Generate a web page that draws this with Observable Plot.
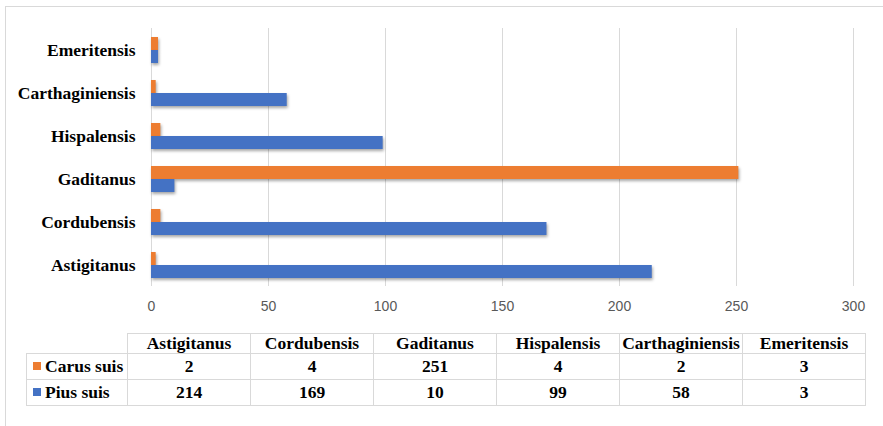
<!DOCTYPE html>
<html>
<head>
<meta charset="utf-8">
<script src="https://cdn.jsdelivr.net/npm/d3@7"></script>
<script src="https://cdn.jsdelivr.net/npm/@observablehq/plot@0.6"></script>
<style>
  html, body { margin: 0; padding: 0; background: #fff; }
  #wrap { position: relative; width: 883px; height: 426px; overflow: hidden; background: #fff; }
  #frame { position: absolute; left: 5px; top: 6px; width: 900px; height: 440px; border: 1px solid #d9d9d9; box-sizing: border-box; }
  #chart { position: absolute; left: 0; top: 0; }
  #chart svg g[aria-label="bar"] rect { filter: drop-shadow(1.5px 2px 1.5px rgba(0,0,0,0.35)); }
  #tbl { position: absolute; left: 26px; top: 333px; border-collapse: collapse; table-layout: fixed;
         font-family: "Liberation Serif", "Times New Roman", serif; font-weight: bold; font-size: 17.5px; color: #000; }
  #tbl td { border: 1px solid #d9d9d9; text-align: center; padding: 0; overflow: hidden; white-space: nowrap; }
  #tbl tr.head td { height: 19px; line-height: 19px; }
  #tbl tr.row td { height: 25px; line-height: 25px; }
  #tbl td.corner { border-top: none; border-left: none; }
  #tbl td.leg { text-align: left; padding-left: 6px; }
  #tbl td.leg span.sw { display: inline-block; width: 8px; height: 8px; margin-right: 4px; vertical-align: 2px; }
</style>
</head>
<body>
<div id="wrap">
  <div id="frame"></div>
  <div id="chart"></div>
  <table id="tbl"></table>
</div>
<script>
const categories = ["Astigitanus", "Cordubensis", "Gaditanus", "Hispalensis", "Carthaginiensis", "Emeritensis"];
const seriesNames = ["Carus suis", "Pius suis"];
const seriesColors = ["#ED7D31", "#4472C4"];
const carusSuis = [2, 4, 251, 4, 2, 3];
const piusSuis = [214, 169, 10, 99, 58, 3];
const xTicks = [0, 50, 100, 150, 200, 250, 300];

const seriesValues = [carusSuis, piusSuis];
const rows = [];
categories.forEach((c, i) => {
  seriesNames.forEach((s, j) => rows.push({category: c, series: s, value: seriesValues[j][i]}));
});

const plot = Plot.plot({
  width: 883,
  height: 330,
  marginLeft: 151,
  marginRight: 30,
  marginTop: 27,
  marginBottom: 43,
  x: {domain: [0, 300], axis: null},
  y: {domain: seriesNames, axis: null, paddingInner: 0, paddingOuter: 0.56},
  fy: {domain: categories.slice().reverse(), padding: 0, axis: null},
  color: {domain: seriesNames, range: seriesColors},
  marks: [
    Plot.gridX(xTicks, {stroke: "#d9d9d9", strokeOpacity: 1, strokeWidth: 1}),
    Plot.barX(rows, {fy: "category", y: "series", x: "value", fill: "series", insetTop: 0, insetBottom: 0}),
    Plot.axisFy({anchor: "left", tickSize: 0, tickPadding: 16, label: null,
      fontSize: 17.5, fontWeight: "bold", fontFamily: "Liberation Serif", fill: "#000"}),
    Plot.axisX(xTicks, {anchor: "bottom", tickSize: 0, tickPadding: 15, label: null,
      fontSize: 14, fontFamily: "Liberation Sans", fill: "#595959", facetAnchor: "bottom"})
  ]
});
document.getElementById("chart").appendChild(plot);

// data table
const tbl = d3.select("#tbl");
const colgroup = tbl.append("colgroup");
colgroup.append("col").style("width", "101px");
categories.forEach(() => colgroup.append("col").style("width", "123px"));
const head = tbl.append("tr").attr("class", "head");
head.append("td").attr("class", "corner");
categories.forEach(c => head.append("td").text(c));
seriesNames.forEach((s, j) => {
  const tr = tbl.append("tr").attr("class", "row");
  const lg = tr.append("td").attr("class", "leg");
  lg.append("span").attr("class", "sw").style("background", seriesColors[j]);
  lg.append("span").text(s);
  seriesValues[j].forEach(v => tr.append("td").text(v));
});
</script>
</body>
</html>
